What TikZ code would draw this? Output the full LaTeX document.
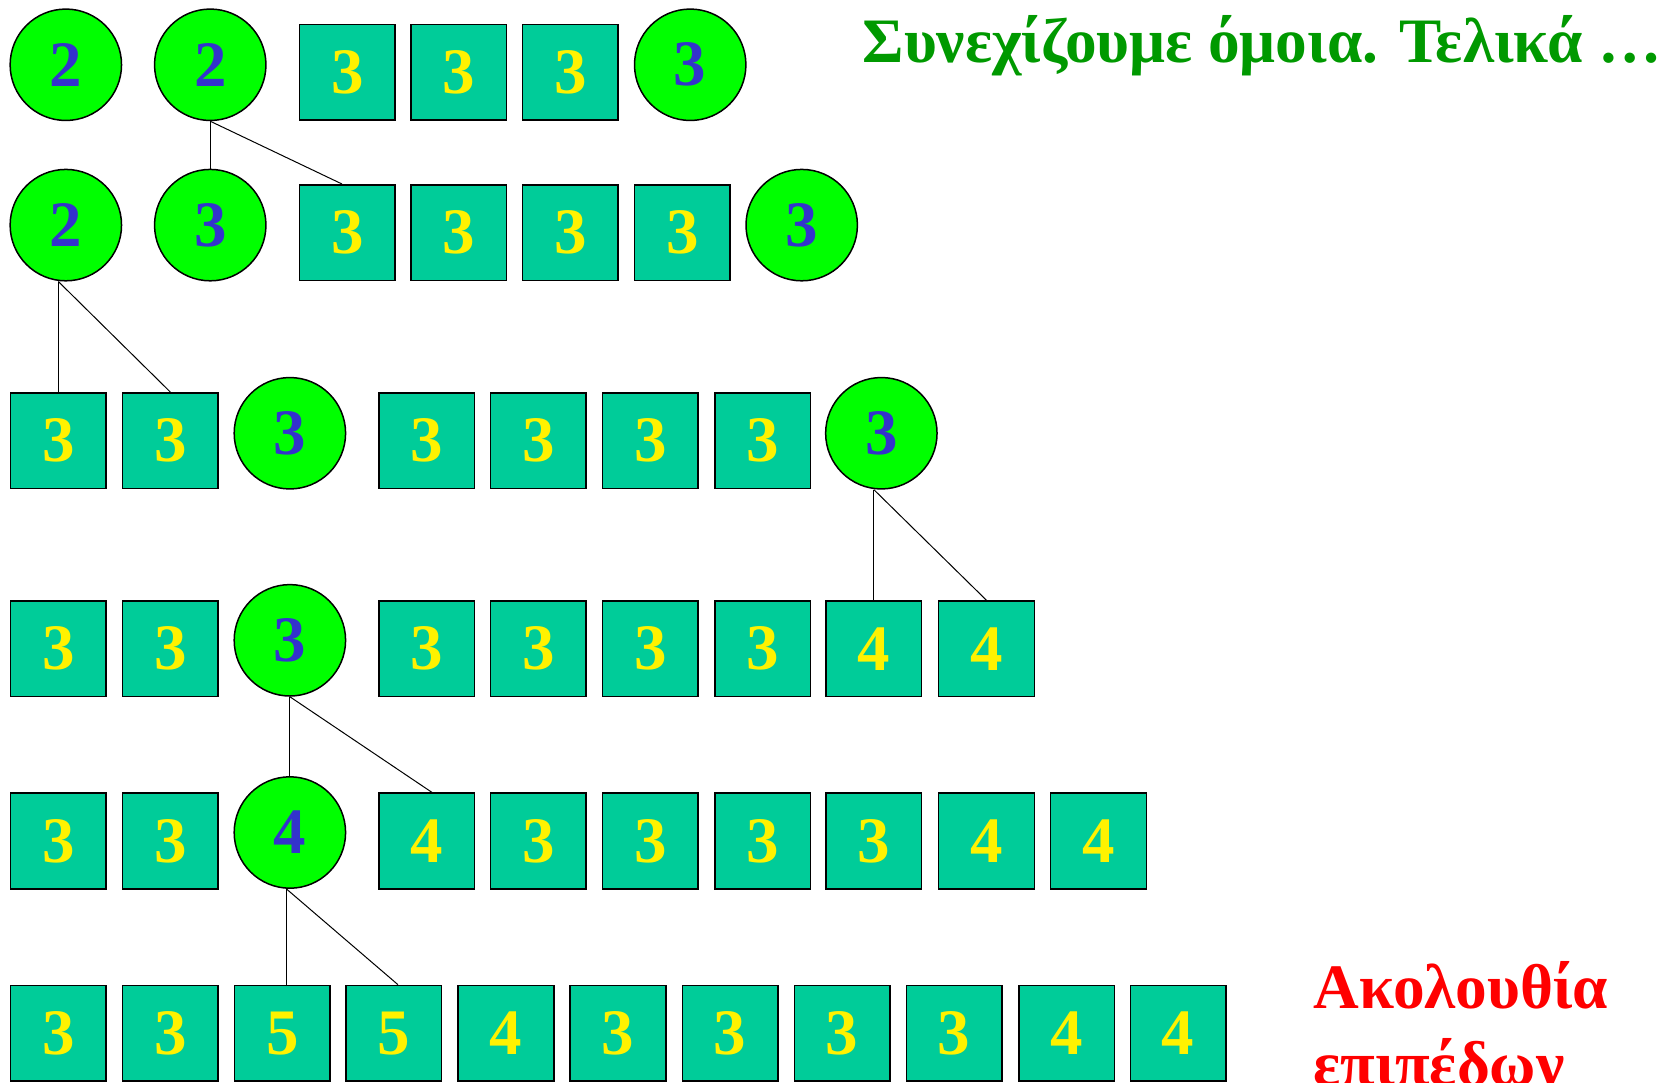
\documentclass[tikz,border=0pt]{standalone}
\usepackage{fontspec}
\setmainfont{Liberation Serif}
\usetikzlibrary{positioning}
\definecolor{sqfill}{HTML}{00CC99}
\definecolor{circfill}{HTML}{00FF00}
\definecolor{digblue}{HTML}{3333CC}
\definecolor{titlegreen}{HTML}{009900}

\begin{document}
\begin{tikzpicture}[x=0.53pt, y=-0.53pt,
    sq/.style={draw, line width=0.75pt, fill=sqfill, text=yellow, minimum width=47.7pt, minimum height=47.7pt, inner sep=0pt, font=\fontsize{32.4}{32.4}\selectfont\bfseries},
    circ/.style={circle, draw, line width=0.75pt, fill=circfill, text=digblue, minimum size=55.6pt, inner sep=0pt, font=\fontsize{32.4}{32.4}\selectfont\bfseries},
    link/.style={line width=0.5pt}
]
\useasboundingbox (0,0) rectangle (1568,1019);

% row 1
\node[circ] (a1) at (62,61) {2};
\node[circ] (a2) at (198,61) {2};
\node[sq] (a3) at (327,68) {3};
\node[sq] (a4) at (432,68) {3};
\node[sq] (a5) at (537,68) {3};
\node[circ] (a6) at (650,61) {3};

% row 2
\node[circ] (b1) at (62,212) {2};
\node[circ] (b2) at (198,212) {3};
\node[sq] (b3) at (327,219) {3};
\node[sq] (b4) at (432,219) {3};
\node[sq] (b5) at (537,219) {3};
\node[sq] (b6) at (642.5,219) {3};
\node[circ] (b7) at (755,212) {3};

% row 3
\node[sq] (c1) at (55,415) {3};
\node[sq] (c2) at (160.5,415) {3};
\node[circ] (c3) at (273,408) {3};
\node[sq] (c4) at (402,415) {3};
\node[sq] (c5) at (507,415) {3};
\node[sq] (c6) at (612.5,415) {3};
\node[sq] (c7) at (718.5,415) {3};
\node[circ] (c8) at (830,408) {3};

% row 4
\node[sq] (d1) at (55,611) {3};
\node[sq] (d2) at (160.5,611) {3};
\node[circ] (d3) at (273,603) {3};
\node[sq] (d4) at (402,611) {3};
\node[sq] (d5) at (507,611) {3};
\node[sq] (d6) at (612.5,611) {3};
\node[sq] (d7) at (718.5,611) {3};
\node[sq] (d8) at (823,611) {4};
\node[sq] (d9) at (929,611) {4};

% row 5
\node[sq] (e1) at (55,792) {3};
\node[sq] (e2) at (160.5,792) {3};
\node[circ] (e3) at (273,784) {4};
\node[sq] (e4) at (402,792) {4};
\node[sq] (e5) at (507,792) {3};
\node[sq] (e6) at (612.5,792) {3};
\node[sq] (e7) at (718.5,792) {3};
\node[sq] (e8) at (823,792) {3};
\node[sq] (e9) at (929,792) {4};
\node[sq] (e10) at (1034.5,792) {4};

% row 6
\node[sq] (f1) at (55,973) {3};
\node[sq] (f2) at (160.5,973) {3};
\node[sq] (f3) at (266,973) {5};
\node[sq] (f4) at (371,973) {5};
\node[sq] (f5) at (476.5,973) {4};
\node[sq] (f6) at (582,973) {3};
\node[sq] (f7) at (687.5,973) {3};
\node[sq] (f8) at (793,973) {3};
\node[sq] (f9) at (898.5,973) {3};
\node[sq] (f10) at (1004.5,973) {4};
\node[sq] (f11) at (1109.5,973) {4};

% texts
\node[anchor=base west, inner sep=0pt, text=titlegreen, font=\fontsize{31.6}{36}\selectfont\bfseries] (title) at (812,59) {Συνεχίζουμε όμοια. Τελικά …};
\node[anchor=base west, inner sep=0pt, align=left, text=red, font=\fontsize{31.6}{38.4}\selectfont\bfseries] (seq) at (1237,1022) {Ακολουθία\\επιπέδων};

% links
\draw[link] (a2.south) -- (b2.north);
\draw[link] (a2.south) -- ([xshift=-2.6pt]b3.north);
\draw[link] (c1.north |- b1.south) -- (c1.north);
\draw[link] (c1.north |- b1.south) -- (c2.north);
\draw[link] (d8.north |- c8.south) -- (d8.north);
\draw[link] (d8.north |- c8.south) -- (d9.north);
\draw[link] (d3.south) -- (e3.north);
\draw[link] (d3.south) -- ([xshift=2.6pt]e4.north);
\draw[link] ([xshift=2pt]f3.north |- e3.south) -- ([xshift=2pt]f3.north);
\draw[link] ([xshift=2pt]f3.north |- e3.south) -- ([xshift=2pt]f4.north);
\end{tikzpicture}
\end{document}
